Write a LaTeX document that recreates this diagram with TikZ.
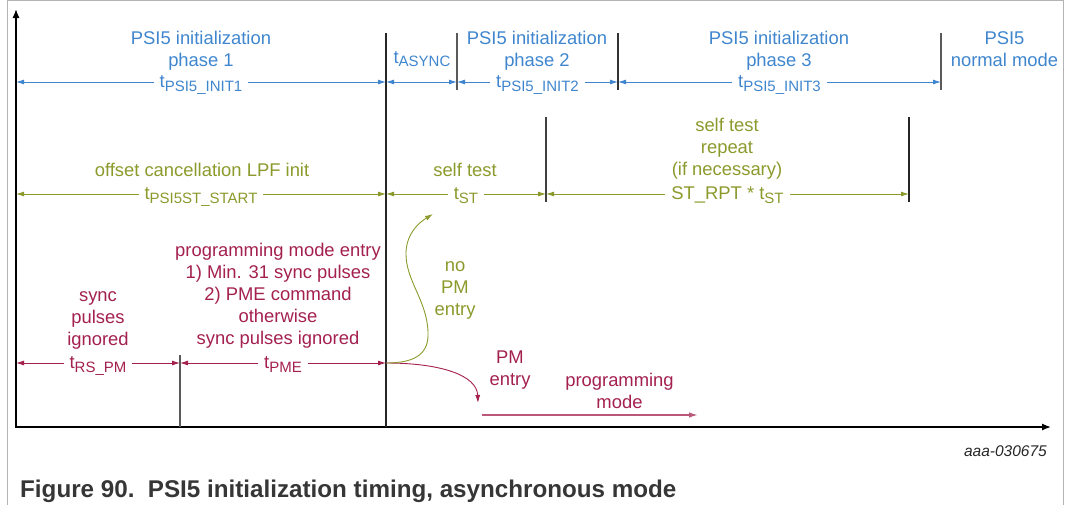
\documentclass[tikz,border=0pt]{standalone}
\usepackage{fontspec}
\setmainfont{Liberation Sans}
\usetikzlibrary{arrows.meta}
\definecolor{cblue}{HTML}{3F86CE}
\definecolor{colive}{HTML}{8C9A2C}
\definecolor{cmag}{HTML}{A3204F}
\definecolor{cframe}{HTML}{B4B4B4}
\definecolor{ccap}{HTML}{363636}
\definecolor{ctick}{HTML}{5A5A5A}
\newcommand{\tsb}[1]{t\raisebox{-3.5pt}{\fontsize{15}{15}\selectfont #1}}
\begin{document}
\begin{tikzpicture}[x=1pt,y=-1pt,
  every node/.style={font=\fontsize{18.4}{22}\selectfont, inner sep=0pt},
  txt/.style={align=center, anchor=base},
  dim/.style={{Latex[length=8pt,width=5pt]}-{Latex[length=8pt,width=5pt]}, line width=0.9pt},
  lbl/.style={fill=white, inner xsep=6pt, inner ysep=1pt, anchor=base, yshift=-5.5pt},
  tick/.style={line width=1.2pt, draw=ctick},
  axisline/.style={line width=1.3pt, {Latex[length=9pt,width=7pt]}-{Latex[length=9pt,width=7pt]}},
]
\useasboundingbox (0,0) rectangle (1069,504);
% frame
\draw[cframe, line width=0.8pt] (7,530) -- (7,0.5) -- (1063,0.5) -- (1063,530);
% axes
\coordinate (ytop) at (16,9);
\coordinate (orig) at (16,427);
\coordinate (xend) at (1051,427);
\draw[axisline] (ytop) -- (orig) -- (xend);
% vertical markers
\coordinate (m1a) at (386,33);  \coordinate (m1b) at (386,427);
\coordinate (m2a) at (457,33);  \coordinate (m2b) at (457,90);
\coordinate (m3a) at (618,33);  \coordinate (m3b) at (618,90);
\coordinate (m4a) at (941,33);  \coordinate (m4b) at (941,90);
\coordinate (m5a) at (546,117); \coordinate (m5b) at (546,202);
\coordinate (m6a) at (909,117); \coordinate (m6b) at (909,202);
\coordinate (m7a) at (180,355); \coordinate (m7b) at (180,427);
\draw[tick, draw=black!85] (m1a) -- (m1b);
\draw[tick] (m2a) -- (m2b);
\draw[tick, draw=black!80] (m3a) -- (m3b);
\draw[tick] (m4a) -- (m4b);
\draw[tick, draw=black!75] (m5a) -- (m5b);
\draw[tick, draw=black!85] (m6a) -- (m6b);
\draw[tick] (m7a) -- (m7b);
% blue row
\coordinate (b0) at (16,82); \coordinate (b1) at (386,82); \coordinate (b2) at (457,82);
\coordinate (b3) at (618,82); \coordinate (b4) at (941,82);
\begin{scope}[cblue, every node/.append style={text=cblue}]
\draw[dim] (b0) -- (b1) node[lbl, midway] (lb1) {\tsb{PSI5\_INIT1}};
\draw[dim] (b1) -- (b2);
\draw[dim] (b2) -- (b3) node[lbl, midway] (lb2) {\tsb{PSI5\_INIT2}};
\draw[dim] (b3) -- (b4) node[lbl, midway] (lb3) {\tsb{PSI5\_INIT3}};
\node[txt] (ph1) at (201,66.3) {PSI5 initialization\\phase 1};
\node[anchor=base] (async) at (422,63.3) {\tsb{ASYNC}};
\node[txt] (ph2) at (537,66.3) {PSI5 initialization\\phase 2};
\node[txt] (ph3) at (779,66.3) {PSI5 initialization\\phase 3};
\node[txt] (nm) at (1004.5,66.3) {PSI5\\normal mode};
\end{scope}
% olive row
\coordinate (o0) at (16,194); \coordinate (o1) at (386,194);
\coordinate (o2) at (546,194); \coordinate (o3) at (909,194);
\begin{scope}[colive, every node/.append style={text=colive}]
\draw[dim] (o0) -- (o1) node[lbl, midway] (lo1) {\tsb{PSI5ST\_START}};
\draw[dim] (o1) -- (o2) node[lbl, midway] (lo2) {\tsb{ST}};
\draw[dim] (o2) -- (o3) node[lbl, midway] (lo3) {ST\_RPT * \tsb{ST}};
\node[txt] (ocl) at (202,176.7) {offset cancellation LPF init};
\node[txt] (st) at (465,176.7) {self test};
\node[txt] (str) at (727,175.7) {self test\\repeat\\(if necessary)};
\node[txt] (nopm) at (455,315.7) {no\\PM\\entry};
\end{scope}
% magenta row
\coordinate (p0) at (16,363); \coordinate (p1) at (180,363); \coordinate (p2) at (386,363);
\coordinate (pmend) at (478,403);
\coordinate (pg0) at (482,415); \coordinate (pg1) at (698,415);
\coordinate (noend) at (433,214);
\begin{scope}[cmag, every node/.append style={text=cmag}]
\draw[dim] (p0) -- (p1) node[lbl, midway] (lp1) {\tsb{RS\_PM}};
\draw[dim] (p1) -- (p2) node[lbl, midway] (lp2) {\tsb{PME}};
\node[txt] (spi) at (98,345.7) {sync\\pulses\\ignored};
\node[txt] (pme) at (278,344.7) {programming mode entry\\1) Min. 31 sync pulses\\2) PME command\\otherwise\\sync pulses ignored};
\node[txt] (pmen) at (510,385.3) {PM\\entry};
\node[txt] (pgm) at (619.5,408.7) {programming\\mode};
\draw[line width=0.9pt, -{Latex[length=8pt,width=5pt]}] (p2) .. controls (440,363) and (477,375) .. (pmend);
\draw[line width=1.5pt, draw=cmag!75, -{Latex[length=9pt,width=5.5pt]}] (pg0) -- (pg1);
\end{scope}
\draw[colive, line width=0.9pt, -{Latex[length=8pt,width=5pt]}] (p2) .. controls (418,363) and (429,352) .. (428,332)
  .. controls (427,300) and (405,280) .. (406,252) .. controls (407,232) and (420,222) .. (noend);
% id and caption
\node[anchor=base east, font=\fontsize{15.5}{18}\selectfont\itshape, text=black!85] (id) at (1047,456) {aaa-030675};
\node[anchor=base west, font=\fontsize{24.2}{28}\selectfont\bfseries, text=ccap] (cap) at (20,497) {Figure 90.\ \ PSI5 initialization timing, asynchronous mode};
\end{tikzpicture}
\end{document}
